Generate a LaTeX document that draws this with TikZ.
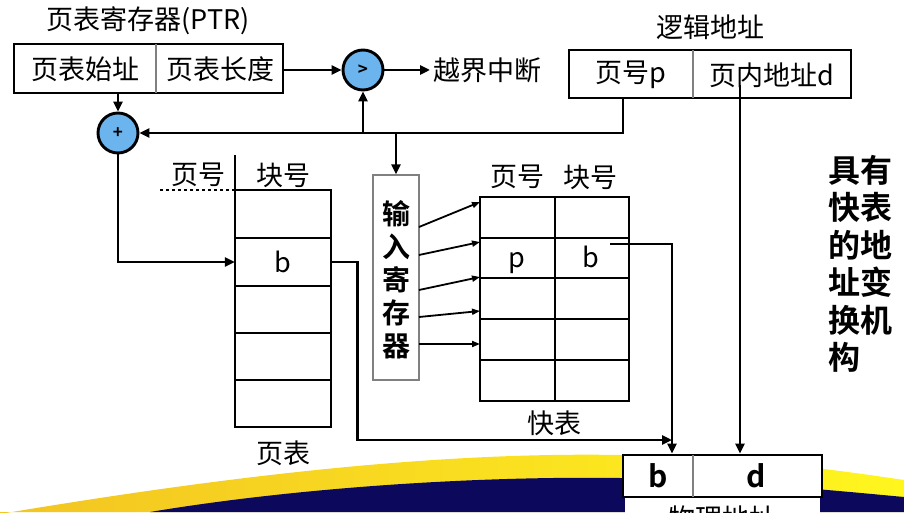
\documentclass[tikz,border=0pt]{standalone}
\usepackage{fontspec}
\setmainfont{Noto Sans CJK SC}[BoldFont={Noto Sans CJK SC Bold}]
\usetikzlibrary{arrows.meta}

\definecolor{opblue}{RGB}{108,180,238}
\definecolor{swgoldL}{RGB}{243,196,34}
\definecolor{swgoldR}{RGB}{255,246,30}
\definecolor{swnavy}{RGB}{12,8,92}

\begin{document}
\begin{tikzpicture}[font=\fontsize{27}{30}\selectfont, x=1pt, y=1pt,
    arr/.style={line width=2.9pt, -{Triangle[length=10pt, width=9pt]}},
    thinarr/.style={line width=1.8pt, -{Triangle[length=8pt, width=6pt]}},
    regbox/.style={draw, fill=white, line width=2.9pt, inner sep=0pt},
    divider/.style={gray, line width=1.2pt},
    opcircle/.style={circle, draw, line width=2.9pt, fill=opblue, minimum size=40pt, inner sep=0pt, font=\fontsize{17}{19}\selectfont\bfseries},
    boldtxt/.style={font=\fontsize{28}{33}\selectfont\bfseries, align=center}]

    \useasboundingbox (0,0) rectangle (904,512);
    \clip (0,0) rectangle (904,512);

    % Background swoosh
    \shade[left color=swgoldL, right color=swgoldR] (0,-2) .. controls (250,40) and (450,60) .. (620,57) .. controls (750,55) and (850,40) .. (904,32) -- (904,0) -- (0,0) -- cycle;
    \fill[swnavy] (150,0) .. controls (300,25) and (480,36) .. (620,34) .. controls (730,32) and (850,20) .. (904,15) -- (904,0) -- cycle;

    % Page table register
    \node[anchor=west] (ptrtitle) at (43,491) {页表寄存器(PTR)};
    \node[regbox, minimum width=269pt, minimum height=49pt] (ptr) at (148.5,443.5) {};
    \draw[divider] (156,419) -- (156,468);
    \node (ptrbase) at (85,443) {页表始址};
    \node (ptrlen) at (220,443) {页表长度};

    % Logical address
    \node (ltitle) at (710,485) {逻辑地址};
    \node[regbox, minimum width=282pt, minimum height=48pt] (laddr) at (710,438) {};
    \draw[divider] (693,414) -- (693,462);
    \node (lpage) at (631,437) {页号p};
    \node (loff) at (772,437) {页内地址d};

    % Comparator and adder
    \node[opcircle] (cmp) at (363,442) {>};
    \node[anchor=west] (intr) at (430,442) {越界中断};
    \node[opcircle] (adder) at (118,379) {+};

    % Page table
    \node (ptpage) at (198,337) {页号};
    \node (ptblock) at (283,337) {块号};
    \draw[line width=1.2pt] (235,357) -- (235,322);
    \draw[dashed, line width=1.6pt] (160,322) -- (235,322);
    \node[draw, fill=white, line width=2.4pt, minimum width=96pt, minimum height=237pt] (ptab) at (283,203.5) {};
    \foreach \y in {274,226,179,132}
      \draw[line width=2pt] (235,\y) -- (331,\y);
    \node[minimum width=96pt, minimum height=48pt] (ptb) at (283,250) {b};
    \node (pttitle) at (283,59) {页表};

    % Input register
    \node[draw=gray, fill=white, line width=1.2pt, minimum width=46pt, minimum height=205pt] (inreg) at (396,234.5) {};
    \node[boldtxt] (inregtxt) at (396,232) {输\\入\\寄\\存\\器};

    % TLB
    \node[draw, fill=white, line width=2.4pt, minimum width=149pt, minimum height=204pt] (tlb) at (554.5,213) {};
    \draw[line width=1.6pt] (555,111) -- (555,315);
    \foreach \y in {274,234,193,152}
      \draw[line width=1.6pt] (480,\y) -- (629,\y);
    \node (tlbpage) at (517,335) {页号};
    \node (tlbblock) at (590,335) {块号};
    \node[anchor=base] (tlbp) at (517,245) {p};
    \node[anchor=base] (tlbb) at (591,245) {b};
    \node (tlbtitle) at (554,89) {快表};

    % Physical address
    \fill[white] (625,-20) rectangle (820,15);
    \node (paddrtitle) at (722,-6) {物理地址};
    \node[regbox, minimum width=199pt, minimum height=42pt] (paddr) at (722.5,36) {};
    \draw[divider] (693,15) -- (693,57);
    \node[font=\fontsize{30}{32}\selectfont\bfseries] (pb) at (658,36) {b};
    \node[font=\fontsize{30}{32}\selectfont\bfseries] (pd) at (756,36) {d};

    % Side caption
    \node[anchor=west, align=left, font=\fontsize{32}{37.5}\selectfont\bfseries] (caption) at (825,248) {具有\\快表\\的地\\址变\\换机\\构};

    % Connectors
    \coordinate (pbus) at (623,379);
    \coordinate (bjoin) at (672,72);
    \coordinate (tlbout) at (610,268);
    \coordinate (dout) at (740,427);
    \draw[arr] (ptr.east |- cmp) -- (cmp.west);
    \draw[arr] (cmp.east) -- (intr.west);
    \draw[arr] (adder |- ptr.south) -- (adder.north);
    \draw[arr] (laddr.south -| pbus) -- (pbus) -- (adder.east);
    \draw[arr] (cmp |- pbus) -- (cmp.south);
    \draw[arr] (inreg.north |- pbus) -- (inreg.north);
    \draw[arr] (adder.south) |- (ptb.west);
    \draw[arr] (ptb.east) -- ++(26,0) |- (bjoin);
    \draw[arr] (tlbout) -| (paddr.north -| bjoin);
    \draw[arr] (dout) -- (paddr.north -| dout);
    \foreach \a/\b in {285/310, 257/270, 222/235, 195/201, 168/168}
      \draw[thinarr] (419,\a) -- (480,\b);

  \end{tikzpicture}
\end{document}
